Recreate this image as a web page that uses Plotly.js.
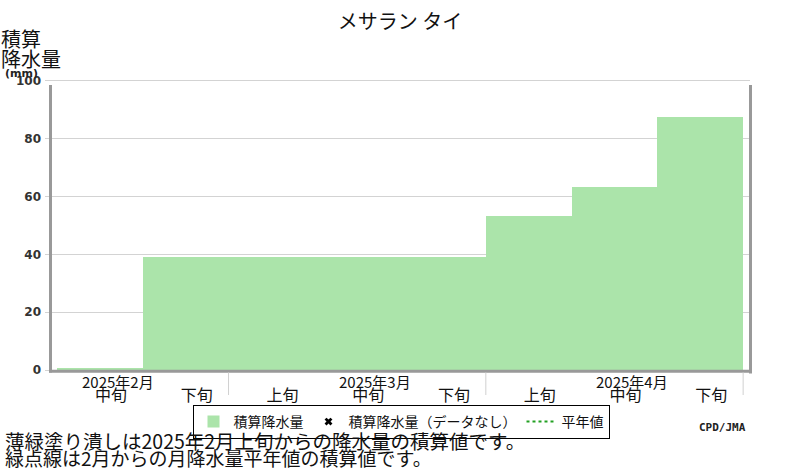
<!DOCTYPE html>
<html>
<head>
<meta charset="utf-8">
<script src="https://cdn.plot.ly/plotly-3.0.1.min.js"></script>
<style>
  body { margin: 0; background: white; }
  #chart { width: 800px; height: 470px; }
</style>
</head>
<body>
<div id="chart"></div>
<script>
// dekads shown, Feb middle .. Apr last
const dekadLabels = ["中旬", "下旬", "上旬", "中旬", "下旬", "上旬", "中旬", "下旬"]
const monthLabels = ["2025年2月", "2025年3月", "2025年4月"]
// accumulated precipitation (mm)
const accumPrecip = [0.8, 39.2, 39.2, 39.2, 39.2, 53.4, 63.3, 87.5]
// no-data points and normals have no values on this chart
const noDataX = [null]
const noDataY = [null]
const normalX = [null]
const normalY = [null]

const jp = "Noto Sans CJK JP"
const green = "#abe4aa"
const frameGray = "#999999"

const dekadPos = dekadLabels.map((_, i) => i + 1)

// plot area in pixels: left 45, right 750, top 79, bottom 374
function px(x) { return (x - 45) / 705 }
function py(y) { return (374 - y) / 295 }

var traces = [
	{
		type: "bar",
		name: "積算降水量",
		x: dekadPos,
		y: accumPrecip,
		width: 1,
		marker: { color: green, line: { width: 0 } },
		hoverinfo: "skip"
	},
	{
		type: "scatter",
		mode: "markers",
		name: "積算降水量（データなし）",
		x: noDataX,
		y: noDataY,
		marker: { symbol: "x", size: 7, color: "black" }
	},
	{
		type: "scatter",
		mode: "lines",
		name: "平年値",
		x: normalX,
		y: normalY,
		line: { color: "#22a022", width: 2, dash: "dot" }
	}
]

var shapes = []
// gray frame (left, bottom, right)
shapes.push({ type: "line", xref: "paper", yref: "paper", x0: px(50.5), x1: px(50.5), y0: py(85), y1: py(372.5), line: { color: frameGray, width: 3 } })
shapes.push({ type: "line", xref: "paper", yref: "paper", x0: px(49), x1: px(752), y0: py(371.3), y1: py(371.3), line: { color: frameGray, width: 3 } })
shapes.push({ type: "line", xref: "paper", yref: "paper", x0: px(750.5), x1: px(750.5), y0: py(85), y1: py(373.5), line: { color: frameGray, width: 3 } })
// month separators under the axis
for (var m = 0; m < monthLabels.length; ++m)
{
	var sep = 2.5 + 3 * m
	shapes.push({ type: "line", xref: "x", yref: "paper", x0: sep, x1: sep, y0: py(372.5), y1: py(395), line: { color: "#d0d0d0", width: 1 } })
}

var annotations = []
for (var m = 0; m < monthLabels.length; ++m)
{
	annotations.push({
		xref: "x", yref: "paper", x: 1 + 3 * m, y: py(381),
		xshift: 18, xanchor: "center", yanchor: "middle",
		text: monthLabels[m], showarrow: false,
		font: { family: jp, size: 15, color: "#111" }
	})
}
// y-axis title pieces
annotations.push({ xref: "paper", yref: "paper", x: px(-1), y: py(39), xanchor: "left", yanchor: "middle", text: "積算", showarrow: false, font: { family: jp, size: 20, color: "#111" } })
annotations.push({ xref: "paper", yref: "paper", x: px(-1), y: py(59), xanchor: "left", yanchor: "middle", text: "降水量", showarrow: false, font: { family: jp, size: 20, color: "#111" } })
annotations.push({ xref: "paper", yref: "paper", x: px(3), y: py(73), xanchor: "left", yanchor: "middle", text: "(mm)", showarrow: false, font: { family: "DejaVu Sans", size: 11, weight: "bold", color: "#222" } })
// notes
annotations.push({ xref: "paper", yref: "paper", x: px(3), y: py(440), xanchor: "left", yanchor: "middle", text: "薄緑塗り潰しは2025年2月上旬からの降水量の積算値です。", showarrow: false, font: { family: jp, size: 19.5, color: "#111" } })
annotations.push({ xref: "paper", yref: "paper", x: px(3), y: py(457.5), xanchor: "left", yanchor: "middle", text: "緑点線は2月からの月降水量平年値の積算値です。", showarrow: false, font: { family: jp, size: 19, color: "#111" } })
annotations.push({ xref: "paper", yref: "paper", x: px(748), y: py(427), xanchor: "right", yanchor: "middle", text: "CPD/JMA", showarrow: false, font: { family: "DejaVu Sans Mono", size: 11, weight: "bold", color: "#222" } })

var layout = {
	width: 800,
	height: 470,
	margin: { l: 45, r: 50, t: 79, b: 96, pad: 0 },
	paper_bgcolor: "white",
	plot_bgcolor: "white",
	bargap: 0,
	title: {
		text: "メサラン タイ",
		x: 0.5,
		xanchor: "center",
		y: 1 - 22 / 470,
		yanchor: "middle",
		font: { family: jp, size: 20, color: "#111" }
	},
	xaxis: {
		range: [0.36, 8.58],
		tickmode: "array",
		tickvals: dekadPos,
		ticktext: dekadLabels,
		ticks: "",
		ticklabelshift: 11,
		ticklabelstandoff: 10,
		showgrid: false,
		zeroline: false,
		showline: false,
		tickfont: { family: jp, size: 16, color: "#111" }
	},
	yaxis: {
		range: [-1.384, 100.69],
		tickvals: [0, 20, 40, 60, 80, 100],
		ticks: "",
		ticklabelstandoff: 3,
		showgrid: true,
		gridcolor: "#d3d3d3",
		gridwidth: 1,
		zeroline: false,
		showline: false,
		tickfont: { family: "DejaVu Sans", size: 12, weight: "bold", color: "#333" }
	},
	showlegend: true,
	legend: {
		orientation: "h",
		x: px(401),
		xanchor: "center",
		y: py(405),
		yanchor: "top",
		bgcolor: "white",
		bordercolor: "black",
		borderwidth: 1,
		itemwidth: 30,
		font: { family: jp, size: 14, color: "#111" }
	},
	shapes: shapes,
	annotations: annotations
}

var config = {
	displayModeBar: false,
	staticPlot: true
}

Plotly.newPlot("chart", traces, layout, config)
</script>
</body>
</html>
